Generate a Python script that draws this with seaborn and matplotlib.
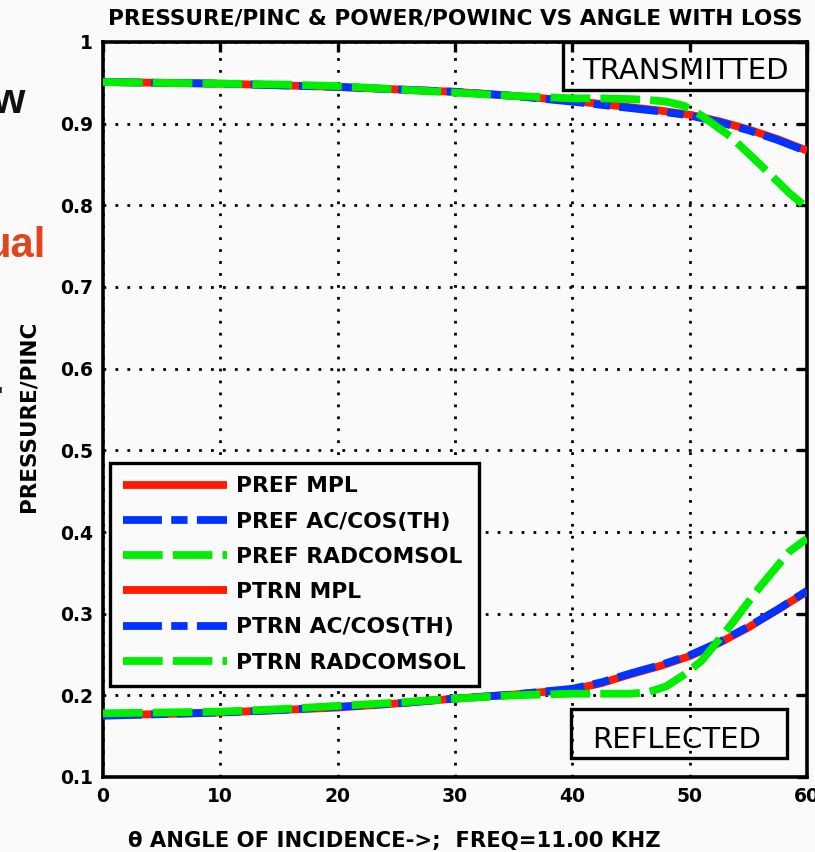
import matplotlib
matplotlib.use("Agg")
import matplotlib.pyplot as plt
import seaborn as sns
from matplotlib.patches import Rectangle

# ---------------- data ----------------
ang_main = [0, 5, 10, 15, 20, 25, 30, 35, 40, 42.5, 45, 47.5, 50, 52.5, 55, 57.5, 60]
ang_rad = [0, 5, 10, 15, 20, 25, 30, 35, 40, 42.5, 45, 46.5, 48, 49.5, 51, 53.5, 56, 58.5, 60]

pref_mpl = [0.176, 0.177, 0.179, 0.182, 0.185, 0.190, 0.196, 0.201, 0.207, 0.215, 0.226,
            0.236, 0.248, 0.264, 0.283, 0.305, 0.327]
pref_acc = [0.175, 0.177, 0.179, 0.182, 0.186, 0.190, 0.196, 0.201, 0.208, 0.216, 0.227,
            0.237, 0.249, 0.265, 0.284, 0.305, 0.328]
pref_rad = [0.178, 0.179, 0.180, 0.183, 0.187, 0.191, 0.196, 0.200, 0.202, 0.202, 0.202,
            0.204, 0.211, 0.225, 0.242, 0.286, 0.333, 0.376, 0.392]

ptrn_mpl = [0.951, 0.950, 0.949, 0.947, 0.945, 0.942, 0.939, 0.934, 0.928, 0.924, 0.920,
            0.916, 0.911, 0.903, 0.893, 0.881, 0.867]
ptrn_acc = [0.951, 0.950, 0.949, 0.947, 0.945, 0.942, 0.939, 0.934, 0.927, 0.923, 0.919,
            0.915, 0.910, 0.902, 0.892, 0.880, 0.866]
ptrn_rad = [0.951, 0.950, 0.949, 0.948, 0.946, 0.942, 0.938, 0.934, 0.931, 0.931, 0.930,
            0.929, 0.927, 0.922, 0.910, 0.884, 0.850, 0.815, 0.797]

labels = ["PREF MPL", "PREF AC/COS(TH)", "PREF RADCOMSOL",
          "PTRN MPL", "PTRN AC/COS(TH)", "PTRN RADCOMSOL"]
x_ticks = [0, 10, 20, 30, 40, 50, 60]
y_ticks = [0.1, 0.2, 0.3, 0.4, 0.5, 0.6, 0.7, 0.8, 0.9, 1.0]
y_ticklabels = ["0.1", "0.2", "0.3", "0.4", "0.5", "0.6", "0.7", "0.8", "0.9", "1"]

title = "PRESSURE/PINC & POWER/POWINC VS ANGLE WITH LOSS"
xlabel = "\u03b8 ANGLE OF INCIDENCE->;  FREQ=11.00 KHZ"
ylabel = "PRESSURE/PINC"

# ---------------- style ----------------
sns.set_style("white")
plt.rcParams["font.family"] = ["DejaVu Sans"]
plt.rcParams["text.color"] = "black"
plt.rcParams["xtick.color"] = "black"
plt.rcParams["ytick.color"] = "black"
BG = "#fafafa"
RED, BLUE, GREEN = "#ff1a00", "#0033ff", "#00ee00"
LW = 5.6
styles = [
    (RED, "-"),
    (BLUE, (0, (5.0, 1.2, 2.1, 1.2))),
    (GREEN, (0, (5.1, 1.3))),
]

fig = plt.figure(figsize=(8.15, 8.52), dpi=100, facecolor=BG)
ax = fig.add_axes([103 / 815, 75 / 852, 704 / 815, 735 / 852])
ax.set_facecolor(BG)

series = [
    (ang_main, pref_mpl), (ang_main, pref_acc), (ang_rad, pref_rad),
    (ang_main, ptrn_mpl), (ang_main, ptrn_acc), (ang_rad, ptrn_rad),
]
for i, (xs, ys) in enumerate(series):
    col, ls = styles[i % 3]
    sns.lineplot(x=xs, y=ys, ax=ax, color=col, linewidth=LW, linestyle=ls,
                 label=labels[i], sort=False, zorder=3 + i % 3,
                 solid_capstyle="butt", dash_capstyle="butt")

ax.set_xlim(0, 60)
ax.set_ylim(0.1, 1.0)
ax.set_xticks(x_ticks)
ax.set_xticklabels([str(v) for v in x_ticks])
ax.set_yticks(y_ticks)
ax.set_yticklabels(y_ticklabels)
ax.set_xlabel("")
ax.set_ylabel("")

ax.grid(True, color="black", linestyle=(0, (1, 3.3)), linewidth=2.0)
ax.set_axisbelow(True)
for s in ax.spines.values():
    s.set_visible(True)
    s.set_color("black")
    s.set_linewidth(2.6)

ax.tick_params(axis="both", direction="in", length=7, width=2.4, color="black",
               labelcolor="black", top=True, right=True, labelsize=13.5, pad=7)
for t in ax.get_xticklabels() + ax.get_yticklabels():
    t.set_fontweight("bold")

leg = ax.legend(loc="upper left", bbox_to_anchor=(0.01, 0.427), borderaxespad=0,
                fancybox=False, framealpha=1, facecolor=BG, edgecolor="black",
                prop={"weight": "bold", "size": 15.7}, handlelength=4.75,
                handletextpad=0.42, labelspacing=0.70, borderpad=0.6)
leg.get_frame().set_linewidth(2.4)
leg.set_zorder(10)
for h in leg.get_lines():
    h.set_solid_capstyle("butt")
    h.set_dash_capstyle("butt")
for t in leg.get_texts():
    t.set_color("black")

# annotation boxes
ax.add_patch(Rectangle((0.653, 0.935), 0.347, 0.065, transform=ax.transAxes,
                       fill=False, edgecolor="black", linewidth=2.4, zorder=6,
                       clip_on=False))
ax.text(0.827, 0.961, "TRANSMITTED", transform=ax.transAxes, ha="center",
        va="center", fontsize=21, color="black", zorder=7)
ax.add_patch(Rectangle((0.665, 0.026), 0.307, 0.0665, transform=ax.transAxes,
                       fill=False, edgecolor="black", linewidth=2.4, zorder=6))
ax.text(0.815, 0.050, "REFLECTED", transform=ax.transAxes, ha="center",
        va="center", fontsize=21, color="black", zorder=7)

# titles
fig.text(455 / 815, 1 - 18 / 852, title, ha="center", va="center",
         fontsize=15.6, fontweight="bold", color="black")
fig.text(128 / 815, 1 - 841 / 852, xlabel, ha="left", va="center",
         fontsize=15.2, fontweight="bold", color="black")
fig.text(29 / 815, 1 - 416 / 852, ylabel, ha="center", va="center",
         rotation=90, fontsize=15.5, fontweight="bold", color="black")

# fragments of surrounding slide text
fig.text(25 / 815, 1 - 113 / 852, "w", ha="right", va="baseline", fontsize=30,
         fontweight="bold", color="#111111", family=["Liberation Sans", "DejaVu Sans"])
fig.text(46 / 815, 1 - 257 / 852, "ual", ha="right", va="baseline", fontsize=30,
         fontweight="bold", color="#e2441c", family=["Liberation Sans", "DejaVu Sans"])
fig.text(4 / 815, 1 - 393 / 852, ".", ha="right", va="baseline", fontsize=30,
         fontweight="bold", color="#222222", family=["Liberation Sans", "DejaVu Sans"])

fig.savefig("out.png", dpi=100, facecolor=BG)
